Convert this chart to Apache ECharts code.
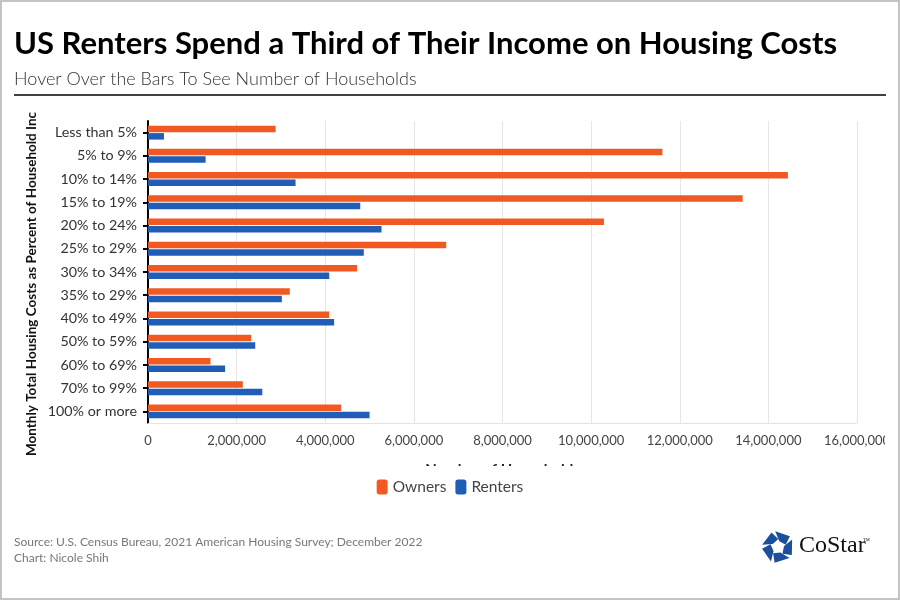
<!DOCTYPE html>
<html>
<head>
<meta charset="utf-8">
<script src="https://cdn.jsdelivr.net/npm/echarts@6/dist/echarts.min.js"></script>
<style>
html,body{margin:0;padding:0;background:#fff;}
#chart{width:900px;height:600px;}
</style>
</head>
<body>
<div id="chart"></div>
<script>
const categories = ['Less than 5%','5% to 9%','10% to 14%','15% to 19%','20% to 24%','25% to 29%','30% to 34%','35% to 29%','40% to 49%','50% to 59%','60% to 69%','70% to 99%','100% or more'];
const owners = [2880000, 11610000, 14440000, 13420000, 10290000, 6730000, 4720000, 3200000, 4090000, 2330000, 1410000, 2140000, 4360000];
const renters = [360000, 1300000, 3330000, 4790000, 5270000, 4870000, 4090000, 3020000, 4200000, 2420000, 1740000, 2580000, 5000000];
const seriesNames = ['Owners', 'Renters'];
const xTicks = { min: 0, max: 16000000, interval: 2000000 };

const FONT = 'Lato';
const ORANGE = '#F05A22';
const BLUE = '#1F5DB6';

function fmt(v){ return v.toString().replace(/\B(?=(\d{3})+(?!\d))/g, ','); }

// CoStar logo pieces (decoration)
function logoPieces(cx, cy){
  const pieces = [];
  const R = 16;
  for (let k = 0; k < 5; k++) {
    const a0 = (-100 + k * 72) * Math.PI / 180;
    const a1 = a0 + 58 * Math.PI / 180;
    const b0 = a0 + 22 * Math.PI / 180;
    const b1 = a0 + 84 * Math.PI / 180;
    pieces.push({
      type: 'polygon', z: 50,
      shape: { points: [
        [cx + R * Math.cos(a0), cy + R * Math.sin(a0)],
        [cx + R * Math.cos(a1), cy + R * Math.sin(a1)],
        [cx + 8 * Math.cos(b1), cy + 8 * Math.sin(b1)],
        [cx + 6 * Math.cos(b0), cy + 6 * Math.sin(b0)]
      ]},
      style: { fill: '#1B4F9C' }
    });
  }
  return pieces;
}

const chart = echarts.init(document.getElementById('chart'), null, { renderer: 'canvas' });
chart.setOption({
  animation: false,
  textStyle: { fontFamily: FONT },
  grid: { left: 148, right: 43, top: 121, bottom: 177, containLabel: false },
  legend: {
    data: seriesNames,
    left: 'center', top: 474,
    itemWidth: 11, itemHeight: 15, itemGap: 9,
    icon: 'roundRect',
    z: 60,
    textStyle: { fontFamily: FONT, fontSize: 15.5, color: '#444' }
  },
  xAxis: {
    type: 'value',
    min: xTicks.min, max: xTicks.max, interval: xTicks.interval,
    name: 'Number of Households',
    nameLocation: 'middle', nameGap: 40,
    nameTextStyle: { fontFamily: FONT, fontSize: 15, fontWeight: 'bold', color: '#222' },
    axisLine: { show: true, lineStyle: { color: '#e3e3e3', width: 1 } },
    axisTick: { show: false },
    axisLabel: { formatter: fmt, fontSize: 13, color: '#444', margin: 11, fontFamily: FONT },
    splitLine: { show: true, lineStyle: { color: '#e6e6e6', width: 1 } }
  },
  yAxis: {
    type: 'category',
    data: categories,
    inverse: true,
    axisLine: { show: true, lineStyle: { color: '#000', width: 2 } },
    axisTick: { show: true, alignWithLabel: true, length: 5, lineStyle: { color: '#000', width: 2 } },
    axisLabel: { fontSize: 14.3, color: '#333', margin: 11, fontFamily: FONT },
    splitLine: { show: false }
  },
  series: [
    { name: seriesNames[0], type: 'bar', data: owners, barWidth: 6.5, barGap: '15%', itemStyle: { color: ORANGE } },
    { name: seriesNames[1], type: 'bar', data: renters, barWidth: 6.5, barGap: '15%', itemStyle: { color: BLUE } }
  ],
  graphic: [
    { type: 'rect', z: 100, silent: true, shape: { x: 1, y: 1, width: 898, height: 598 }, style: { fill: 'none', stroke: '#c4c4c4', lineWidth: 2 } },
    { type: 'text', z: 50, left: 14, top: 28, style: { text: 'US Renters Spend a Third of Their Income on Housing Costs', font: 'bold 31px ' + FONT, fill: '#000' } },
    { type: 'text', z: 50, left: 14, top: 70, style: { text: 'Hover Over the Bars To See Number of Households', font: '300 18px ' + FONT, fill: '#333' } },
    { type: 'line', z: 50, shape: { x1: 14, y1: 95, x2: 886, y2: 95 }, style: { stroke: '#000', lineWidth: 1.5 } },
    { type: 'text', z: 50, x: 32, y: 284, rotation: Math.PI / 2, style: { text: 'Monthly Total Housing Costs as Percent of Household Inc', font: 'bold 13.5px ' + FONT, fill: '#111', align: 'center', verticalAlign: 'middle' } },
    { type: 'rect', z: 40, silent: true, shape: { x: 330, y: 466, width: 340, height: 32 }, style: { fill: '#fff' } },
    { type: 'rect', z: 40, silent: true, shape: { x: 885, y: 426, width: 13, height: 25 }, style: { fill: '#fff' } },
    { type: 'text', z: 50, left: 14, top: 536, style: { text: 'Source: U.S. Census Bureau, 2021 American Housing Survey; December 2022', font: '12px ' + FONT, fill: '#777' } },
    { type: 'text', z: 50, left: 14, top: 552, style: { text: 'Chart: Nicole Shih', font: '12px ' + FONT, fill: '#777' } },
    ...logoPieces(778, 547),
    { type: 'text', z: 50, left: 799, top: 534, style: { text: 'CoStar', font: '24px "Liberation Serif"', fill: '#111' } },
    { type: 'text', z: 50, left: 863, top: 538, style: { text: '\u2122', font: '7px "Liberation Serif"', fill: '#111' } }
  ]
});
</script>
</body>
</html>
